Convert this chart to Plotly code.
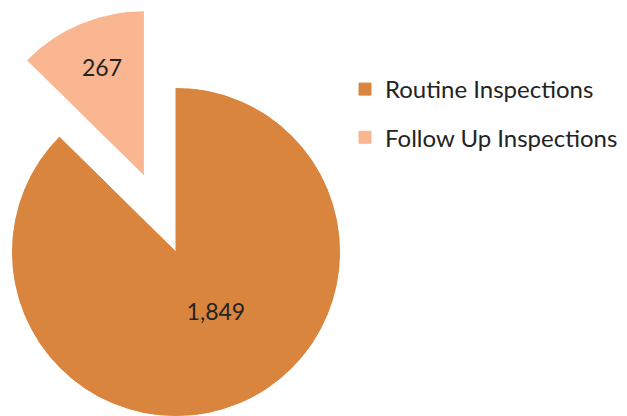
import math
import plotly.graph_objects as go

# ---- data ----
categories = ["Routine Inspections", "Follow Up Inspections"]
values = [1849, 267]
colors = ["#DA853E", "#F9B691"]

# ---- layout constants (pixels, page coordinates) ----
W, H = 627, 416
OFF = 8                # page body margin offset of the figure
CX, CY = 176 - OFF, 252 - OFF   # centre of main pie inside the figure
R = 164                # pie radius in px
PULL = 0.507           # pull of the exploded slice, fraction of R
FONT = "Lato, 'Open Sans', sans-serif"
TXT = "#232323"

total = sum(values)
spans = [v / total * 360 for v in values]
# clockwise angles from 12 o'clock
starts = [sum(spans[:i]) for i in range(len(spans))]
mids = [s + sp / 2 for s, sp in zip(starts, spans)]


def to_paper_x(px):
    return px / W


def to_paper_y(py):
    return 1 - py / H


def sector_bbox(a0, a1):
    """bbox (unit circle, y up) of a pie sector given in clockwise-from-top degrees"""
    m0, m1 = 90 - a1, 90 - a0  # math angles, counterclockwise
    pts = [(0.0, 0.0), (math.cos(math.radians(m0)), math.sin(math.radians(m0))),
           (math.cos(math.radians(m1)), math.sin(math.radians(m1)))]
    k = math.ceil(m0 / 90) * 90
    while k <= m1:
        pts.append((math.cos(math.radians(k)), math.sin(math.radians(k))))
        k += 90
    xs = [p[0] for p in pts]
    ys = [p[1] for p in pts]
    return min(xs), max(xs), min(ys), max(ys), (m0, m1)


fig = go.Figure()

# main slice (polar subplot 1, full circle)
fig.add_trace(go.Barpolar(
    r=[1], theta=[mids[0]], width=[spans[0]], base=0,
    marker=dict(color=colors[0], line=dict(color=colors[0], width=1)),
    name=categories[0], legendgroup="g0", subplot="polar",
    hoverinfo="skip",
))
fig.add_trace(go.Scatterpolar(
    r=[0.45], theta=[mids[0] - 10], mode="text",
    text=[f"{values[0]:,}"], textfont=dict(family=FONT, size=23, color=TXT),
    showlegend=False, subplot="polar", hoverinfo="skip",
))

# exploded slice (polar subplot 2, only its sector)
fig.add_trace(go.Barpolar(
    r=[1], theta=[mids[1]], width=[spans[1]], base=0,
    marker=dict(color=colors[1], line=dict(color=colors[1], width=1)),
    name=categories[1], legendgroup="g1", subplot="polar2",
    hoverinfo="skip",
))
fig.add_trace(go.Scatterpolar(
    r=[0.69], theta=[mids[1] + 1], mode="text",
    text=[f"{values[1]:,}"], textfont=dict(family=FONT, size=23, color=TXT),
    showlegend=False, subplot="polar2", hoverinfo="skip",
))

# geometry of exploded slice
m = math.radians(mids[1])
vx = CX + R * PULL * math.sin(m)
vy = CY - R * PULL * math.cos(m)
x0, x1, y0, y1, (sm0, sm1) = sector_bbox(starts[1], starts[1] + spans[1])

common = dict(
    bgcolor="rgba(0,0,0,0)",
    hole=0,
    radialaxis=dict(range=[0, 1], visible=False),
    angularaxis=dict(rotation=90, direction="clockwise", visible=False),
)

fig.update_layout(
    width=W, height=H,
    margin=dict(l=0, r=0, t=0, b=0),
    paper_bgcolor="white",
    plot_bgcolor="white",
    polar=dict(
        domain=dict(x=[to_paper_x(CX - R), to_paper_x(CX + R)],
                    y=[max(0, to_paper_y(CY + R)), to_paper_y(CY - R)]),
        **common,
    ),
    polar2=dict(
        domain=dict(x=[to_paper_x(vx + R * x0), to_paper_x(vx + R * x1)],
                    y=[to_paper_y(vy - R * y0), to_paper_y(vy - R * y1)]),
        sector=[sm0, sm1],
        **common,
    ),
    legend=dict(
        x=to_paper_x(345 - OFF), y=to_paper_y(67 - OFF), xanchor="left", yanchor="top",
        font=dict(family=FONT, size=24, color=TXT),
        tracegroupgap=14, bgcolor="rgba(0,0,0,0)",
        traceorder="grouped",
    ),
    showlegend=True,
)

fig.write_html("out.html")
